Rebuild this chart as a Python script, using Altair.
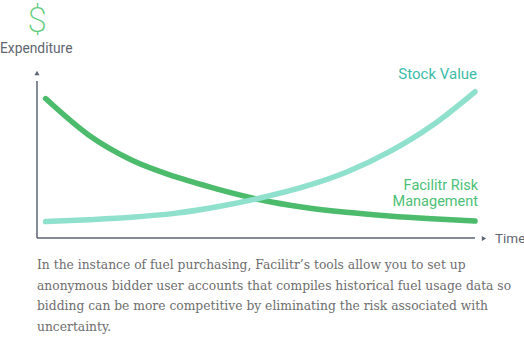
import altair as alt
import pandas as pd

# ---- data ----
time_points = [0, 1, 2, 3, 4, 5, 6, 7, 8, 9, 10]
facilitr_risk = [79.1, 58.3, 44.0, 34.6, 27.4, 21.3, 17.0, 14.1, 12.0, 10.4, 9.1]
stock_value = [8.8, 9.9, 11.3, 13.5, 17.3, 22.3, 28.6, 37.0, 48.6, 63.7, 83.0]

series_names = ["Facilitr Risk Management", "Stock Value"]
y_title = "Expenditure"
x_title = "Time"
currency_symbol = "$"
stock_label = ["Stock Value"]
risk_label = ["Facilitr Risk", "Management"]
description_lines = [
    "In the instance of fuel purchasing, Facilitr\u2019s tools allow you to set up",
    "anonymous bidder user accounts that compiles historical fuel usage data so",
    "bidding can be more competitive by eliminating the risk associated with",
    "uncertainty.",
]

GREEN = "#4cbb6c"
TEAL = "#8fe0cc"
AXIS = "#5b6573"
TEXT_GRAY = "#5f6670"

df = pd.DataFrame({
    "time": time_points * 2,
    "value": facilitr_risk + stock_value,
    "series": [series_names[0]] * len(time_points) + [series_names[1]] * len(time_points),
})

x_scale = alt.Scale(domain=[-0.2, 10], nice=False, zero=False)
y_scale = alt.Scale(domain=[0, 100], nice=False)

lines = alt.Chart(df).mark_line(strokeWidth=5.5, strokeCap="round", interpolate="monotone").encode(
    x=alt.X("time:Q", scale=x_scale, axis=None),
    y=alt.Y("value:Q", scale=y_scale, axis=None),
    color=alt.Color("series:N", scale=alt.Scale(domain=series_names, range=[GREEN, TEAL]), legend=None),
    order=alt.Order("time:Q"),
)

one = alt.Data(values=[{"k": 0}])

y_axis_line = alt.Chart(one).mark_rule(color=AXIS, strokeWidth=1.5).encode(
    x=alt.value(0), y=alt.value(19), y2=alt.value(176)
)
x_axis_line = alt.Chart(one).mark_rule(color=AXIS, strokeWidth=1.5).encode(
    x=alt.value(0), x2=alt.value(438), y=alt.value(176)
)
y_arrow = alt.Chart(one).mark_point(shape="triangle-up", filled=True, color=AXIS, size=26, opacity=1).encode(
    x=alt.value(0), y=alt.value(11)
)
x_arrow = alt.Chart(one).mark_point(shape="triangle-right", filled=True, color=AXIS, size=26, opacity=1).encode(
    x=alt.value(447), y=alt.value(176.5)
)

def text_layer(values, x, y, **kw):
    d = pd.DataFrame({"t": values})
    return alt.Chart(d).mark_text(**kw).encode(
        x=alt.value(x), y=alt.value(y), text="t:N"
    )

dollar = text_layer([currency_symbol], 0, -41, font="Roboto", fontWeight=200, fontSize=35,
                    color="#5ccb7c", align="center", baseline="middle")
exp_label = text_layer([y_title], -37, -8.7, font="Roboto", fontSize=13.8, color=TEXT_GRAY,
                       align="left", baseline="alphabetic")
time_label = text_layer([x_title], 458, 180.7, font="Roboto", fontSize=13.5, color=TEXT_GRAY,
                        align="left", baseline="alphabetic")
stock_txt = text_layer(stock_label, 440, 17, font="Roboto", fontSize=15, color="#3dbca8",
                       align="right", baseline="alphabetic")
risk_txt = text_layer(["\n".join(risk_label)], 441, 127.5, font="Roboto", fontSize=14.5, color="#4cc176",
                      align="right", baseline="alphabetic", lineBreak="\n", lineHeight=16)

desc_layers = [
    text_layer([line], 0, 203 + 20.6 * i, font="DejaVu Serif", fontSize=12.3, color="#6e6e6e",
               align="left", baseline="middle")
    for i, line in enumerate(description_lines)
]

chart = alt.layer(
    y_axis_line, x_axis_line, y_arrow, x_arrow, lines,
    dollar, exp_label, time_label, stock_txt, risk_txt, *desc_layers
).properties(
    width=438, height=175,
    padding={"left": 37, "top": 62, "right": 49, "bottom": 116},
    autosize=alt.AutoSizeParams(type="none"),
    background="white",
).configure_view(stroke=None)

chart.save("out.html", embed_options={"renderer": "svg", "actions": False})
